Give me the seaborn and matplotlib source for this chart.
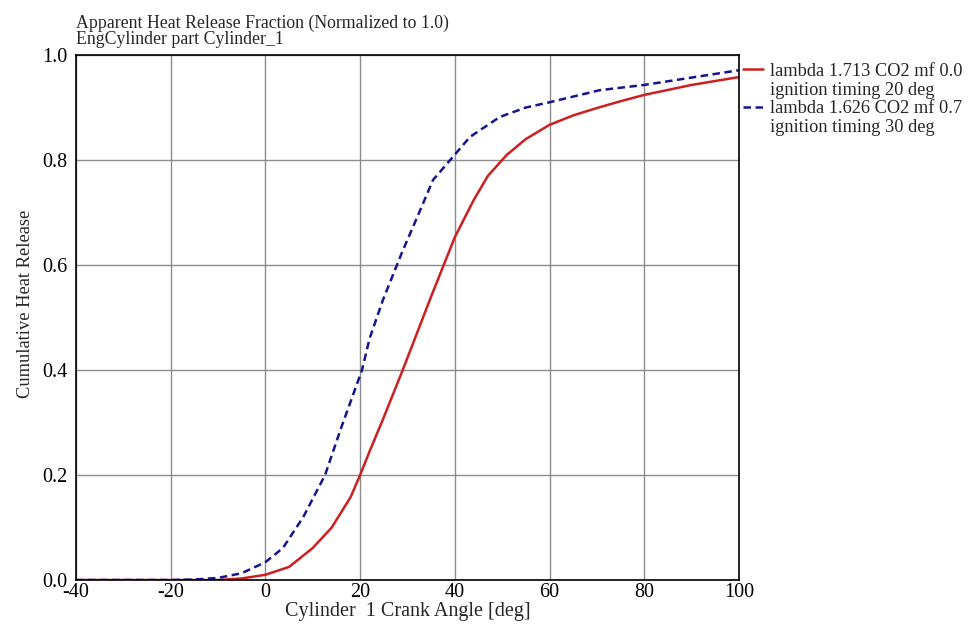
import matplotlib
matplotlib.use("Agg")
import matplotlib.pyplot as plt
from matplotlib.lines import Line2D
import seaborn as sns
import pandas as pd

red_x = [-40, -20, -10, -5, 0, 5, 10, 14, 18, 20, 22, 25, 29, 32, 35, 40, 44, 47, 51, 55, 60, 65, 70, 75, 80, 90, 100]
red_y = [0, 0, 0.0, 0.003, 0.01, 0.025, 0.061, 0.10, 0.158, 0.2, 0.245, 0.31, 0.4, 0.47, 0.54, 0.653,
         0.724, 0.77, 0.81, 0.84, 0.867, 0.885, 0.899, 0.912, 0.924, 0.943, 0.958]
blue_x = [-40, -20, -15, -10, -5, 0, 3.7, 8, 12.6, 16, 20.4, 22, 24.8, 28.8, 32, 35.4, 39.4, 43.2, 49.5,
          55, 60, 70.6, 80, 90, 100]
blue_y = [0, 0, 0.001, 0.004, 0.013, 0.034, 0.061, 0.12, 0.2, 0.29, 0.4, 0.46, 0.533, 0.623, 0.69, 0.762,
          0.804, 0.844, 0.882, 0.9, 0.91, 0.933, 0.943, 0.957, 0.971]
label_lines = [["lambda 1.713 CO2 mf 0.0", "ignition timing 20 deg"],
               ["lambda 1.626 CO2 mf 0.7", "ignition timing 30 deg"]]
xticks = [-40, -20, 0, 20, 40, 60, 80, 100]
yticks = [0.0, 0.2, 0.4, 0.6, 0.8, 1.0]

sns.set_style("white")
plt.rcParams['font.family'] = ['Liberation Serif', 'DejaVu Serif']
plt.rcParams['font.size'] = 13

fig = plt.figure(figsize=(9.69, 6.28), dpi=100)
ax = fig.add_axes([0.0784, 0.0764, 0.7626 - 0.0784, 0.9124 - 0.0764])

sns.lineplot(x=red_x, y=red_y, ax=ax, color="#cc2020", linewidth=1.8)
sns.lineplot(x=blue_x, y=blue_y, ax=ax, color="#14148e", linewidth=1.8)
ax.lines[1].set_dashes((3.0, 1.8))

ax.set_xlim(-40, 100)
ax.set_ylim(0, 1.0)
ax.set_xticks(xticks)
ax.set_yticks(yticks)
ax.set_xticklabels([str(t) for t in xticks])
ax.set_yticklabels([f"{t:.1f}" for t in yticks])
ax.grid(True, color="#8c8c8c", linewidth=1.0)
ax.set_axisbelow(True)
for s in ax.spines.values():
    s.set_color("black")
    s.set_linewidth(1.2)
ax.tick_params(axis="both", length=0, labelsize=14.5, colors="black")
ax.tick_params(axis="x", pad=2)
ax.tick_params(axis="y", pad=6)

ax.set_xlabel("Cylinder  1 Crank Angle [deg]", fontsize=14.5, labelpad=0)
ax.set_ylabel("Cumulative Heat Release", fontsize=13.3)
ax.yaxis.set_label_coords(-0.064, 0.526)
ax.set_title("Apparent Heat Release Fraction (Normalized to 1.0)\nEngCylinder part Cylinder_1",
             loc="left", fontsize=12.8, pad=8, linespacing=0.92)

red_line, blue_line = ax.lines[0], ax.lines[1]
blank = Line2D([], [], color="none")
handles = [Line2D([], [], color=red_line.get_color(), linewidth=1.8), blank,
           Line2D([], [], color=blue_line.get_color(), linewidth=1.8, dashes=(3.0, 1.8)), blank]
texts = [label_lines[0][0], label_lines[0][1], label_lines[1][0], label_lines[1][1]]
leg = ax.legend(handles, texts, loc="upper left", bbox_to_anchor=(1.0, 0.992), frameon=False,
                handlelength=1.1, handletextpad=0.4, borderaxespad=0.0, borderpad=0.2,
                labelspacing=0.09, fontsize=13.2)

fig.savefig("out.png", dpi=100)
